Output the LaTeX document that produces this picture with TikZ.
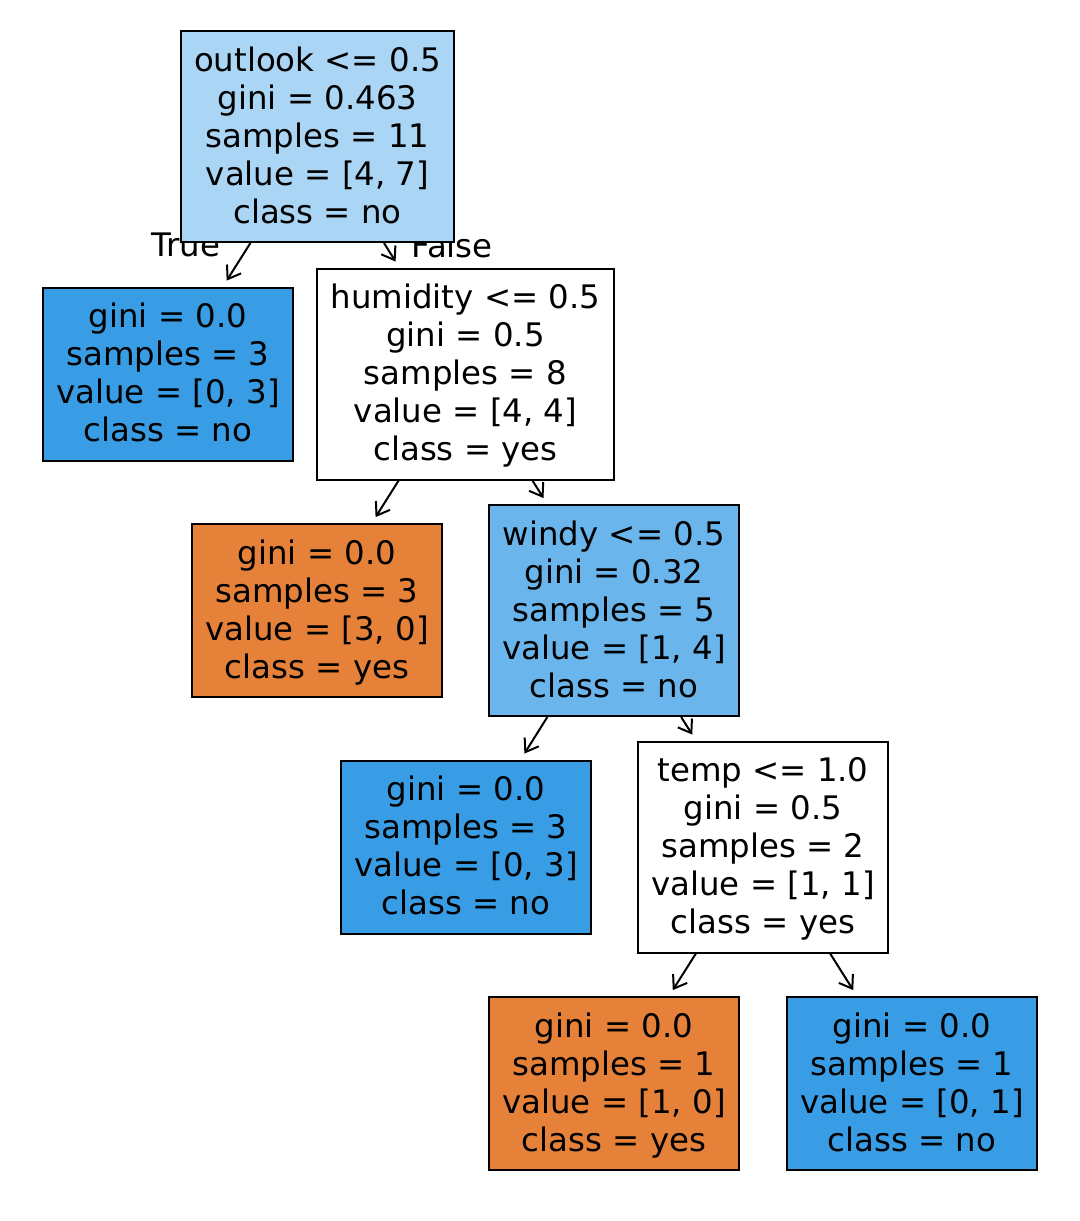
\documentclass[tikz,border=0pt]{standalone}
\usepackage{fontspec}
\setmainfont{DejaVu Sans}
\usetikzlibrary{arrows.meta}
\definecolor{clsno}{HTML}{399DE5}
\definecolor{clsyes}{HTML}{E58139}
\definecolor{rootfill}{HTML}{AAD5F4}
\definecolor{windyfill}{HTML}{6AB6EC}
% stacked node lines in a zero-size box, so every block sits the same way in its box
\newcommand\boxtext[1]{\raisebox{-8.7pt}[0pt][0pt]{\begin{tabular}{@{}c@{}}#1\end{tabular}}}
\tikzset{
  treenode/.style={draw=black, line width=1.5pt, inner sep=0pt,
    font=\fontsize{24.3}{28.5}\selectfont},
  splitbox/.style={treenode, minimum width=#1*0.75pt, minimum height=211*0.75pt},
  leafbox/.style={treenode, minimum width=250*0.75pt, minimum height=173*0.75pt},
  treearrow/.style={line width=1.5pt, -{Straight Barb[length=9pt, width=12.5pt, line width=1.5pt]},
    shorten >=5.25pt},
  edgelabel/.style={font=\fontsize{24.3}{28.5}\selectfont, inner sep=0pt}
}
\begin{document}
\begin{tikzpicture}[x=0.75pt, y=-0.75pt]
  \useasboundingbox (0,0) rectangle (1080,1221);
  % branch labels sit under the root box
  \node[edgelabel] (ltrue) at (186,245) {True};
  \node[edgelabel] (lfalse) at (452,245) {False};
  % nodes of the tree
  \node[splitbox=273, fill=rootfill] (root) at (317.5,136.5)
    {\boxtext{outlook <= 0.5\\gini = 0.463\\samples = 11\\value = [4, 7]\\class = no}};
  \node[leafbox, fill=clsno] (n1) at (168,374)
    {\boxtext{gini = 0.0\\samples = 3\\value = [0, 3]\\class = no}};
  \node[splitbox=297, fill=white] (n2) at (465.5,374)
    {\boxtext{humidity <= 0.5\\gini = 0.5\\samples = 8\\value = [4, 4]\\class = yes}};
  \node[leafbox, fill=clsyes] (n3) at (317,610.5)
    {\boxtext{gini = 0.0\\samples = 3\\value = [3, 0]\\class = yes}};
  \node[splitbox=250, fill=windyfill] (n4) at (614,610.5)
    {\boxtext{windy <= 0.5\\gini = 0.32\\samples = 5\\value = [1, 4]\\class = no}};
  \node[leafbox, fill=clsno] (n5) at (466,847)
    {\boxtext{gini = 0.0\\samples = 3\\value = [0, 3]\\class = no}};
  \node[splitbox=250, fill=white] (n6) at (763,847)
    {\boxtext{temp <= 1.0\\gini = 0.5\\samples = 2\\value = [1, 1]\\class = yes}};
  \node[leafbox, fill=clsyes] (n7) at (614,1083.5)
    {\boxtext{gini = 0.0\\samples = 1\\value = [1, 0]\\class = yes}};
  \node[leafbox, fill=clsno] (n8) at (912,1083.5)
    {\boxtext{gini = 0.0\\samples = 1\\value = [0, 1]\\class = no}};
  % connectors
  \draw[treearrow] (root) -- (n1);
  \draw[treearrow] (root) -- (n2);
  \draw[treearrow] (n2) -- (n3);
  \draw[treearrow] (n2) -- (n4);
  \draw[treearrow] (n4) -- (n5);
  \draw[treearrow] (n4) -- (n6);
  \draw[treearrow] (n6) -- (n7);
  \draw[treearrow] (n6) -- (n8);
\end{tikzpicture}
\end{document}
